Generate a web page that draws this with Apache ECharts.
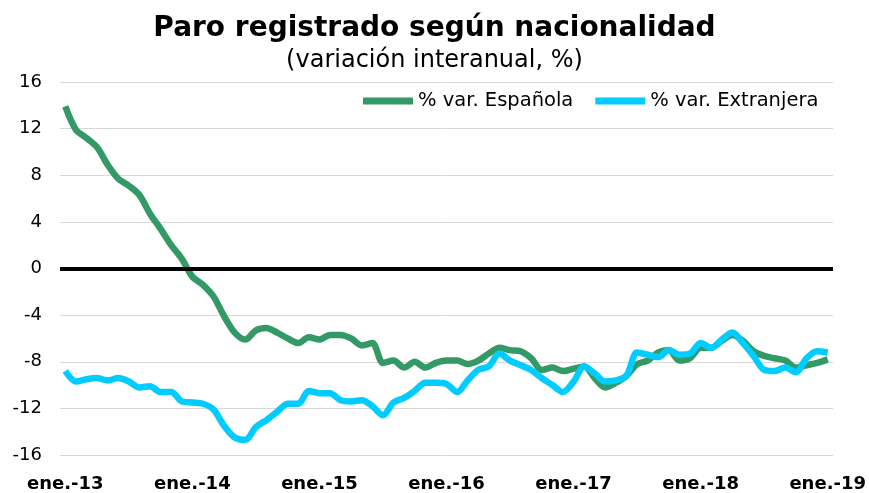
<!DOCTYPE html>
<html>
<head>
<meta charset="utf-8">
<script src="https://cdn.jsdelivr.net/npm/echarts@6/dist/echarts.min.js"></script>
<style>
  html, body { margin: 0; padding: 0; background: #fff; }
  #chart { width: 869px; height: 493px; }
</style>
</head>
<body>
<div id="chart"></div>
<script>
// months ene.-13 .. ene.-19, labels shown once a year
var years = ['13', '14', '15', '16', '17', '18', '19'];
var monthNames = ['ene.', 'feb.', 'mar.', 'abr.', 'may.', 'jun.', 'jul.', 'ago.', 'sep.', 'oct.', 'nov.', 'dic.'];
var categories = [];
years.forEach(function (y, k) {
  monthNames.forEach(function (m, j) {
    if (k < years.length - 1 || j === 0) categories.push(m + '-' + y);
  });
});

var espanola = [
  13.9, 11.9, 11.2, 10.4, 8.9, 7.7, 7.1, 6.3, 4.7, 3.4, 2.0, 0.85,
  -0.7, -1.4, -2.4, -4.1, -5.5, -6.1, -5.3, -5.1, -5.5, -6.0, -6.4, -5.9,
  -6.1, -5.7, -5.7, -6.0, -6.6, -6.4, -8.1, -7.9, -8.5, -8.0, -8.5, -8.1,
  -7.9, -7.9, -8.2, -7.9, -7.3, -6.8, -7.0, -7.1, -7.7, -8.7, -8.5, -8.8,
  -8.6, -8.4, -9.4, -10.2, -9.8, -9.2, -8.2, -7.9, -7.2, -7.0, -7.9, -7.7,
  -6.8, -6.8, -6.2, -5.7, -6.2, -7.1, -7.5, -7.7, -7.9, -8.5, -8.3, -8.1,
  -7.8
];
var extranjera = [
  -8.8, -9.7, -9.5, -9.4, -9.6, -9.4, -9.7, -10.2, -10.1, -10.6, -10.6, -11.4,
  -11.5, -11.6, -12.1, -13.5, -14.5, -14.7, -13.6, -13.0, -12.3, -11.6, -11.6, -10.5,
  -10.7, -10.7, -11.3, -11.4, -11.3, -11.8, -12.6, -11.5, -11.1, -10.5, -9.8, -9.8,
  -9.9, -10.6, -9.6, -8.7, -8.4, -7.3, -7.9, -8.3, -8.7, -9.4, -10.0, -10.6,
  -9.7, -8.4, -9.0, -9.7, -9.6, -9.2, -7.2, -7.4, -7.6, -7.0, -7.4, -7.3,
  -6.4, -6.8, -6.1, -5.5, -6.4, -7.5, -8.7, -8.8, -8.5, -8.9, -7.7, -7.1,
  -7.2
];

var chart = echarts.init(document.getElementById('chart'));
chart.setOption({
  animation: false,
  textStyle: { fontFamily: 'DejaVu Sans' },
  title: [
    { text: 'Paro registrado según nacionalidad', left: 'center', top: 10,
      textStyle: { fontSize: 28, fontWeight: 'bold', color: '#000' } },
    { text: '(variación interanual, %)', left: 'center', top: 44,
      textStyle: { fontSize: 24, fontWeight: 'normal', color: '#000' } }
  ],
  legend: {
    left: 358, top: 86,
    icon: 'rect', itemWidth: 50, itemHeight: 7, itemGap: 22,
    textStyle: { fontSize: 19.5, color: '#000' },
    data: ['% var. Española', '% var. Extranjera']
  },
  grid: { left: 60, right: 36, top: 82, bottom: 35 },
  xAxis: {
    type: 'category',
    data: categories,
    boundaryGap: true,
    axisLine: { show: false },
    axisTick: { show: false },
    axisLabel: {
      interval: 11, margin: 20,
      fontSize: 18, fontWeight: 'bold', color: '#000'
    }
  },
  yAxis: {
    type: 'value', min: -16, max: 16, interval: 4,
    axisLine: { show: false },
    axisTick: { show: false },
    axisLabel: { fontSize: 18, color: '#000', margin: 18 },
    splitLine: { lineStyle: { color: '#d9d9d9', width: 1 } }
  },
  series: [
    {
      name: '% var. Española', type: 'line', data: espanola,
      smooth: 0.3, showSymbol: false,
      lineStyle: { color: '#339966', width: 6.5 },
      itemStyle: { color: '#339966' },
      markLine: {
        silent: true, symbol: ['none', 'none'],
        label: { show: false },
        lineStyle: { color: '#000', width: 4, type: 'solid' },
        data: [{ yAxis: 0 }]
      }
    },
    {
      name: '% var. Extranjera', type: 'line', data: extranjera,
      smooth: 0.3, showSymbol: false,
      lineStyle: { color: '#00ccff', width: 6.5 },
      itemStyle: { color: '#00ccff' }
    }
  ]
});
</script>
</body>
</html>
